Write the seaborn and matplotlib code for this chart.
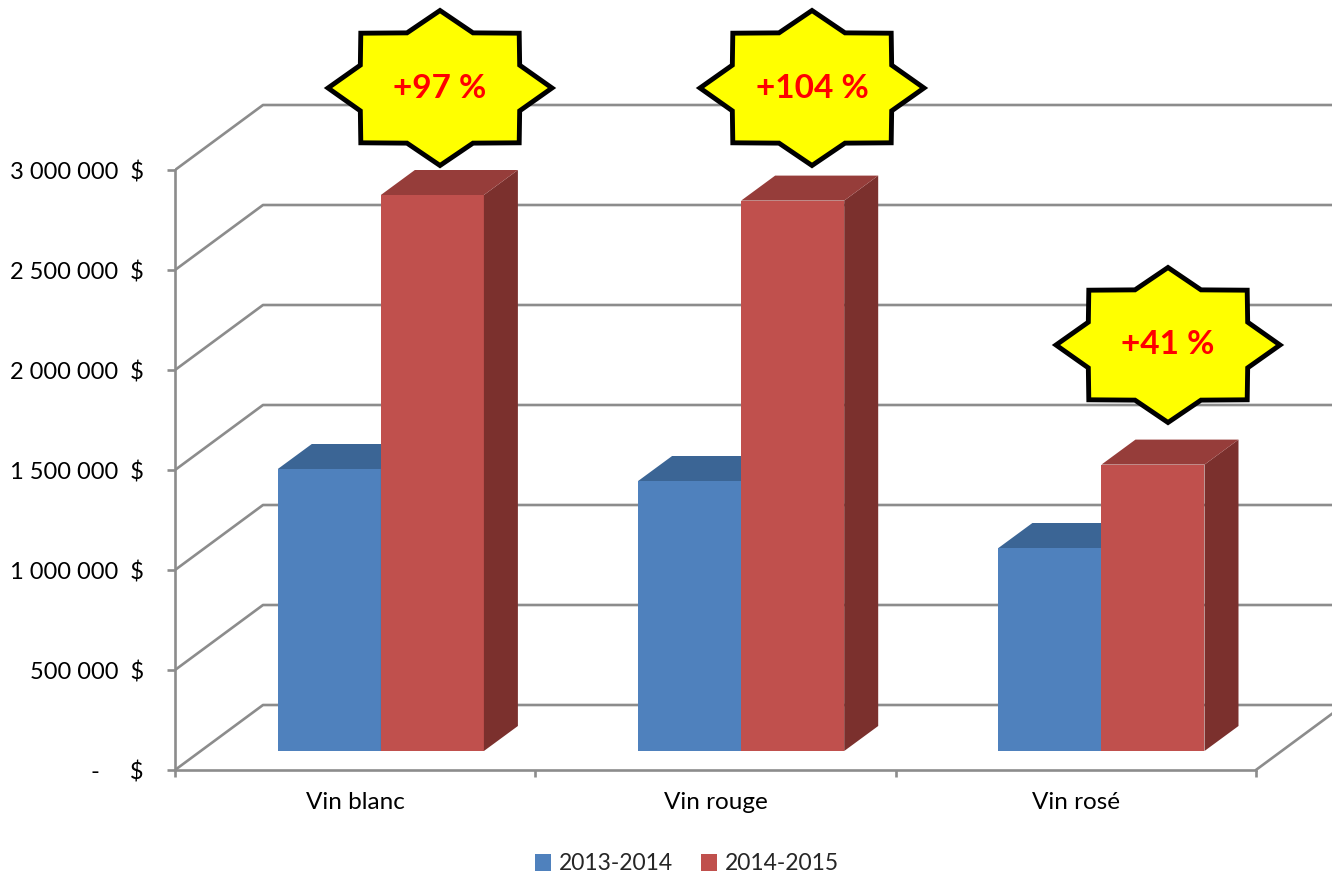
import numpy as np
import pandas as pd
import seaborn as sns
import matplotlib
matplotlib.use("Agg")
import matplotlib.pyplot as plt
from matplotlib.patches import Polygon, Patch

# ---------------- data ----------------
categories = ["Vin blanc", "Vin rouge", "Vin rosé"]
series_names = ["2013-2014", "2014-2015"]
sales_2013_2014 = [1410000, 1350000, 1015000]
sales_2014_2015 = [2780000, 2752000, 1432000]
growth_labels = ["+97 %", "+104 %", "+41 %"]
y_ticks = [0, 500000, 1000000, 1500000, 2000000, 2500000, 3000000]

df = pd.DataFrame({
    "category": categories * 2,
    "series": [series_names[0]] * 3 + [series_names[1]] * 3,
    "value": sales_2013_2014 + sales_2014_2015,
})

# ---------------- style ----------------
sns.set_theme(style="white")
plt.rcParams["font.family"] = ["Lato", "DejaVu Sans"]

front_colors = {"2013-2014": "#4f81bd", "2014-2015": "#c0504d"}
top_colors = {"2013-2014": "#3b6595", "2014-2015": "#963d3a"}
side_colors = {"2013-2014": "#355a88", "2014-2015": "#7b302d"}
grid_color = "#8c8c8c"

W, H = 1332, 877
PX_CAT = 360.3      # pixels per category on the front plane
VAL_PX = 5000.0     # dollars per pixel
X0, Y0 = 175, 770   # pixel position of the front axis origin

fig = plt.figure(figsize=(W / 100, H / 100), dpi=100)
ax = fig.add_axes([X0 / W, (H - Y0) / H, (W - X0) / W, Y0 / H])

def dx(px):
    return px / PX_CAT

def dy(px):
    return px * VAL_PX

# perspective offsets (pixels)
back_off = (88, 65)
bar_off = (25.7, 19)
depth = (34, 25)

xmin, xmax = -0.5, -0.5 + dx(W - X0)

# ---------------- walls / gridlines ----------------
for v in y_ticks:
    ax.plot([-0.5, -0.5 + dx(back_off[0]), xmax],
            [v, v + dy(back_off[1]), v + dy(back_off[1])],
            color=grid_color, lw=1.9, zorder=1, solid_capstyle="butt")
# right edge of floor
ax.plot([2.5, 2.5 + dx(back_off[0])], [0, dy(back_off[1])],
        color=grid_color, lw=1.9, zorder=1)

# ---------------- bars ----------------
sns.barplot(data=df, x="category", y="value", hue="series",
            palette=front_colors, width=0.572, saturation=1,
            order=categories, hue_order=series_names,
            ax=ax, legend=False, edgecolor="none", linewidth=0)

for si, (cont, name) in enumerate(zip(ax.containers, series_names)):
    for p in cont.patches:
        h = p.get_height()
        p.set_x(p.get_x() + dx(bar_off[0]))
        p.set_y(dy(bar_off[1]))
        p.set_zorder(2 + si)
        x0 = p.get_x()
        x1 = x0 + p.get_width()
        yb = p.get_y()
        yt = yb + h
        ddx, ddy = dx(depth[0]), dy(depth[1])
        side = Polygon([(x1, yb), (x1 + ddx, yb + ddy), (x1 + ddx, yt + ddy), (x1, yt)],
                       closed=True, facecolor=side_colors[name], edgecolor="none",
                       zorder=2 + si)
        top = Polygon([(x0, yt), (x1, yt), (x1 + ddx, yt + ddy), (x0 + ddx, yt + ddy)],
                      closed=True, facecolor=top_colors[name], edgecolor="none",
                      zorder=2 + si)
        ax.add_patch(side)
        ax.add_patch(top)

# ---------------- axes ----------------
ax.set_xlim(xmin, xmax)
ax.set_ylim(0, dy(Y0))
ax.set_xlabel("")
ax.set_ylabel("")

for s in ["top", "right"]:
    ax.spines[s].set_visible(False)
ax.spines["left"].set_bounds(0, 3000000)
ax.spines["bottom"].set_bounds(-0.5, 2.5)
for s in ["left", "bottom"]:
    ax.spines[s].set_color(grid_color)
    ax.spines[s].set_linewidth(1.9)
    ax.spines[s].set_zorder(1)

def fmt(v):
    if v == 0:
        return "-     $"
    return f"{v:,.0f}".replace(",", " ") + "  $"

ax.set_yticks(y_ticks)
ax.set_yticklabels([fmt(v) for v in y_ticks])
ax.tick_params(axis="y", direction="out", length=5.5, width=1.9, color=grid_color,
               pad=17, labelsize=17, labelcolor="black", left=True)

ax.set_xticks([-0.5, 0.5, 1.5, 2.5])
ax.set_xticklabels([])
ax.set_xticks([0, 1, 2], minor=True)
ax.set_xticklabels(categories, minor=True)
ax.tick_params(axis="x", which="major", direction="out", length=5, width=1.9,
               color=grid_color, bottom=True)
ax.tick_params(axis="x", which="minor", length=0, pad=16, labelsize=17.5,
               labelcolor="black")
ax.grid(False)

# ---------------- star bursts ----------------
star_centers_px = [(440, 88), (812, 88), (1168, 345)]
star_rx, star_ry, inner = 112, 77.5, 0.77
for (cx_px, cy_px), lab in zip(star_centers_px, growth_labels):
    cx = -0.5 + dx(cx_px - X0)
    cy = dy(Y0 - cy_px)
    ang = np.pi / 2 + np.arange(16) * np.pi / 8
    r = np.where(np.arange(16) % 2 == 0, 1.0, inner)
    xs = cx + r * np.cos(ang) * dx(star_rx)
    ys = cy + r * np.sin(ang) * dy(star_ry)
    star = Polygon(np.column_stack([xs, ys]), closed=True, facecolor="#ffff00",
                   edgecolor="black", lw=3.5, joinstyle="miter", zorder=6,
                   clip_on=False)
    ax.add_patch(star)
    ax.text(cx, cy, lab, ha="center", va="center", color="#ff0000",
            fontsize=24, fontweight="bold", zorder=7, clip_on=False)

# ---------------- legend ----------------
handles = [Patch(facecolor=front_colors[n], edgecolor="none", label=n) for n in series_names]
fig.legend(handles=handles, loc="center", bbox_to_anchor=(687 / W, (H - 864) / H),
           ncol=2, frameon=False, fontsize=16.5, handlelength=0.7, handleheight=0.7,
           handletextpad=0.35, columnspacing=1.2)

fig.savefig("out.png", dpi=100)
